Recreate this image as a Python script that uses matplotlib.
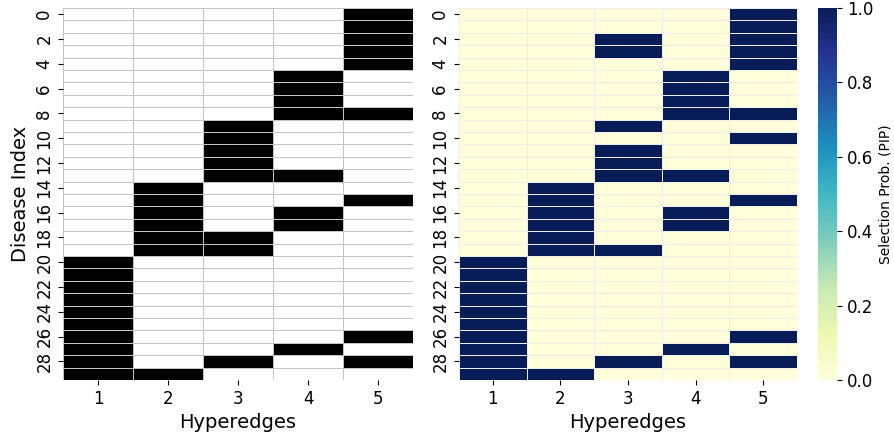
import numpy as np
import matplotlib
matplotlib.use('Agg')
import matplotlib.pyplot as plt
from matplotlib.colors import ListedColormap
import seaborn as sns

hyperedges = [1, 2, 3, 4, 5]

# true membership (disease x hyperedge)
true_membership = [
    [0, 0, 0, 0, 1],
    [0, 0, 0, 0, 1],
    [0, 0, 0, 0, 1],
    [0, 0, 0, 0, 1],
    [0, 0, 0, 0, 1],
    [0, 0, 0, 1, 0],
    [0, 0, 0, 1, 0],
    [0, 0, 0, 1, 0],
    [0, 0, 0, 1, 1],
    [0, 0, 1, 0, 0],
    [0, 0, 1, 0, 0],
    [0, 0, 1, 0, 0],
    [0, 0, 1, 0, 0],
    [0, 0, 1, 1, 0],
    [0, 1, 0, 0, 0],
    [0, 1, 0, 0, 1],
    [0, 1, 0, 1, 0],
    [0, 1, 0, 1, 0],
    [0, 1, 1, 0, 0],
    [0, 1, 1, 0, 0],
    [1, 0, 0, 0, 0],
    [1, 0, 0, 0, 0],
    [1, 0, 0, 0, 0],
    [1, 0, 0, 0, 0],
    [1, 0, 0, 0, 0],
    [1, 0, 0, 0, 0],
    [1, 0, 0, 0, 1],
    [1, 0, 0, 1, 0],
    [1, 0, 1, 0, 1],
    [1, 1, 0, 0, 0],
]

# posterior inclusion probabilities
pip = [
    [0.0, 0.0, 0.0, 0.0, 1.0],
    [0.0, 0.0, 0.0, 0.0, 1.0],
    [0.0, 0.0, 1.0, 0.0, 1.0],
    [0.0, 0.0, 1.0, 0.0, 1.0],
    [0.0, 0.0, 0.0, 0.0, 1.0],
    [0.0, 0.0, 0.0, 1.0, 0.0],
    [0.0, 0.0, 0.0, 1.0, 0.0],
    [0.0, 0.0, 0.0, 1.0, 0.0],
    [0.0, 0.0, 0.0, 1.0, 1.0],
    [0.0, 0.0, 1.0, 0.0, 0.0],
    [0.0, 0.0, 0.0, 0.0, 1.0],
    [0.0, 0.0, 1.0, 0.0, 0.0],
    [0.0, 0.0, 1.0, 0.0, 0.0],
    [0.0, 0.0, 1.0, 1.0, 0.0],
    [0.0, 1.0, 0.0, 0.0, 0.0],
    [0.0, 1.0, 0.0, 0.0, 1.0],
    [0.0, 1.0, 0.0, 1.0, 0.0],
    [0.0, 1.0, 0.0, 1.0, 0.0],
    [0.0, 1.0, 0.0, 0.0, 0.0],
    [0.0, 1.0, 1.0, 0.0, 0.0],
    [1.0, 0.0, 0.0, 0.0, 0.0],
    [1.0, 0.0, 0.0, 0.0, 0.0],
    [1.0, 0.0, 0.0, 0.0, 0.0],
    [1.0, 0.0, 0.0, 0.0, 0.0],
    [1.0, 0.0, 0.0, 0.0, 0.0],
    [1.0, 0.0, 0.0, 0.0, 0.0],
    [1.0, 0.0, 0.0, 0.0, 1.0],
    [1.0, 0.0, 0.0, 1.0, 0.0],
    [1.0, 0.0, 1.0, 0.0, 1.0],
    [1.0, 1.0, 0.0, 0.0, 0.0],
]

W, H = 894, 437
fig = plt.figure(figsize=(W / 100, H / 100), dpi=100)
ax1 = fig.add_axes([63 / W, 1 - 380 / H, 350 / W, 372 / H])
ax2 = fig.add_axes([459 / W, 1 - 380 / H, 338 / W, 372 / H])
cax = fig.add_axes([818 / W, 1 - 380 / H, 19 / W, 372 / H])

sns.heatmap(np.array(true_membership), ax=ax1, cmap=ListedColormap(['white', 'black']),
            cbar=False, linewidths=0.7, linecolor='#c4c4c4',
            xticklabels=hyperedges, yticklabels=2)
sns.heatmap(np.array(pip), ax=ax2, cmap='YlGnBu', vmin=0, vmax=1,
            cbar_ax=cax, linewidths=0.7, linecolor='#eeeef2',
            xticklabels=hyperedges, yticklabels=2)

for ax in (ax1, ax2):
    ax.set_xlabel('Hyperedges', fontsize=14)
    ax.tick_params(labelsize=12)
    plt.setp(ax.get_yticklabels(), rotation=90, va='center')
    plt.setp(ax.get_xticklabels(), rotation=0)
ax1.set_ylabel('Disease Index', fontsize=14)

cax.tick_params(labelsize=12)
cax.set_ylabel('Selection Prob. (PIP)', fontsize=10)

fig.savefig('out.png', dpi=100)
